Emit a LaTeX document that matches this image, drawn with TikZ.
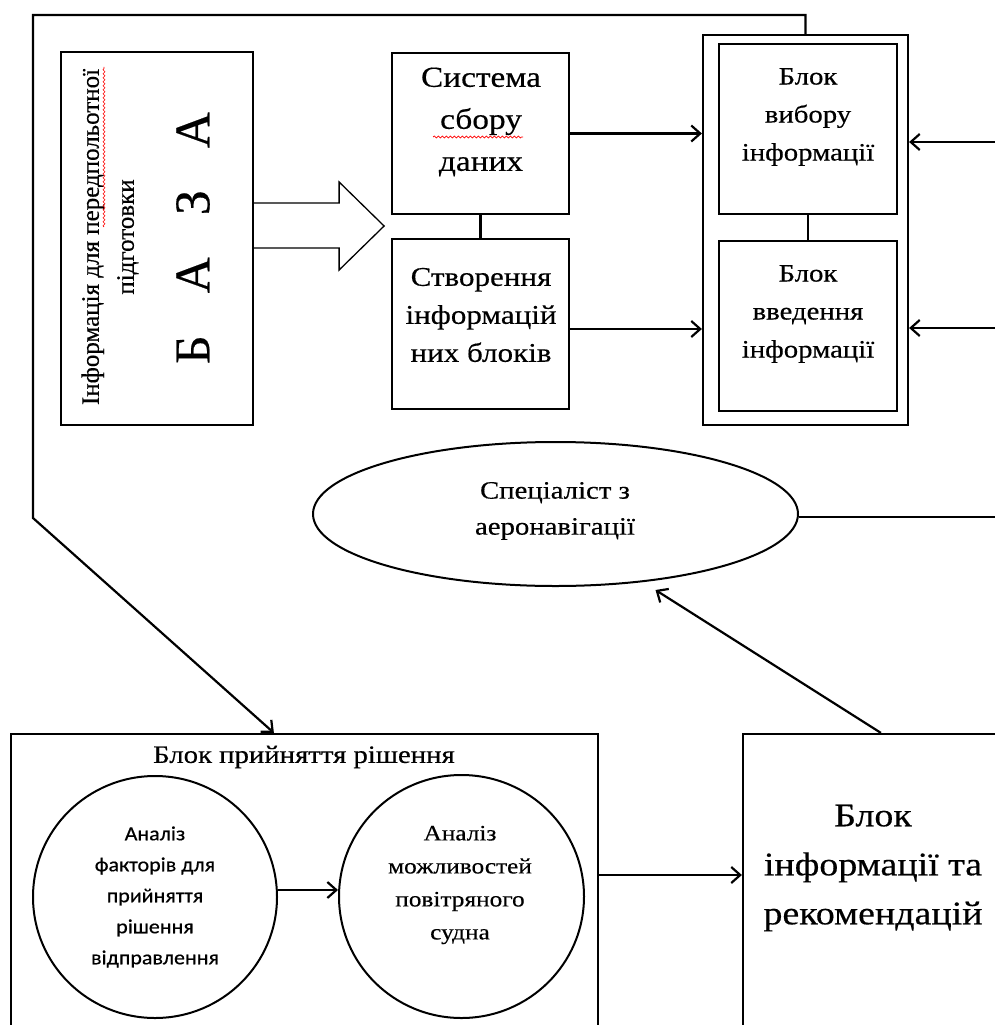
\documentclass[tikz,border=0pt]{standalone}
\usepackage{fontspec}
\setmainfont{Liberation Serif}[FakeStretch=1.15,FakeBold=0.4]
\newfontfamily\rotfont{Liberation Serif}[FakeBold=0.4]
\newfontfamily\sansfnt{Carlito}[FakeStretch=1.1,FakeBold=0.5]
\usetikzlibrary{arrows.meta,decorations.pathmorphing,shapes.geometric,calc}
\begin{document}
\begin{tikzpicture}[x=1pt,y=-1pt,line width=2.2pt,
  box/.style={draw,rectangle,inner sep=0pt,line width=2.2pt},
  oval/.style={draw,ellipse,inner sep=0pt,line width=2pt},
  txt/.style={align=center,inner sep=0pt},
  arr/.style={-{Straight Barb[length=9pt,width=16pt]}},
  squig/.style={red,line width=0.7pt,decorate,decoration={snake,amplitude=1pt,segment length=4pt}}]
\fill[white] (0,0) rectangle (995,1025);
\useasboundingbox (0,0) rectangle (995,1025);

% boxes
\node[box,minimum width=192pt,minimum height=373pt] (baza) at (157,238.5) {};
\node[box,minimum width=177pt,minimum height=161pt] (sys) at (480.5,133.5) {};
\node[box,minimum width=177pt,minimum height=170pt] (cre) at (480.5,324) {};
\node[box,minimum width=205pt,minimum height=390pt] (outer) at (805.5,230) {};
\node[box,minimum width=178pt,minimum height=170pt] (sel) at (808,129) {};
\node[box,minimum width=178pt,minimum height=170pt] (inp) at (808,326) {};
\node[oval,minimum width=485pt,minimum height=144pt] (spec) at (555.5,514) {};
\node[box,minimum width=587pt,minimum height=330pt] (dec) at (304.5,899) {};
\node[box,minimum width=280pt,minimum height=330pt] (info) at (883,899) {};
\node[oval,minimum width=244pt,minimum height=242pt] (c1) at (155,897) {};
\node[oval,minimum width=245pt,minimum height=243pt] (c2) at (461.5,896.5) {};

% texts
\node[txt,rotate=90,font=\rotfont\fontsize{25}{35}\selectfont] (tbaza) at (110,237) {Інформація для передпольотної\\підготовки};
\node[txt,rotate=90,font=\rotfont\fontsize{50}{52}\selectfont] (tletters) at (193,238) {Б\hspace{42pt}А\hspace{42pt}З\hspace{42pt}А};
\node[txt,font=\fontsize{29}{42}\selectfont] (tsys) at (481,122) {Система\\сбору\\даних};
\node[txt,font=\fontsize{27}{38}\selectfont] (tcre) at (481,315) {Створення\\інформацій\\них блоків};
\node[txt,font=\fontsize{25}{38}\selectfont] (tsel) at (808,117) {Блок\\вибору\\інформації};
\node[txt,font=\fontsize{25}{38}\selectfont] (tinp) at (808,314) {Блок\\введення\\інформації};
\node[txt,font=\fontsize{25}{36}\selectfont] (tspec) at (555,511) {Спеціаліст з\\аеронавігації};
\node[txt,font=\fontsize{25}{30}\selectfont] (tdec) at (304,757) {Блок прийняття рішення};
\node[txt,font=\sansfnt\fontsize{20}{31}\selectfont] (tc1) at (155,897) {Аналіз\\факторів для\\прийняття\\рішення\\відправлення};
\node[txt,font=\fontsize{22}{33}\selectfont] (tc2) at (460,885) {Аналіз\\можливостей\\повітряного\\судна};
\node[txt,font=\fontsize{33}{49}\selectfont] (tinfo) at (873,868) {Блок\\інформації та\\рекомендацій};

% spell-check marks
\draw[squig] (433,137) -- (523,137);
\draw[squig] (104,227) -- (104,67);

% block arrow
\draw[line width=1.3pt,line join=miter] ($(baza.east)+(0,-35.5)$) -- ++(85,0) -- ++(0,-21) -- ++(45,44) -- ++(-45,44) -- ++(0,-22) -- ++(-85,0);

% connectors
\draw (sys.south) -- (cre.north);
\draw (sel.south) -- (inp.north);
\draw[arr] (sys.east) -- (sys.east -| outer.west);
\draw[arr] ($(cre.east)+(0,5)$) coordinate (ce) -- (ce -| outer.west);
\coordinate (rin1) at (995,142);
\coordinate (rin2) at (995,328);
\coordinate (rout) at (995,517);
\draw[arr] (rin1) -- (rin1 -| outer.east);
\draw[arr] (rin2) -- (rin2 -| outer.east);
\draw (rout -| spec.east) -- (rout);
\coordinate (k1) at (33,15);
\coordinate (k2) at (33,518);
\draw[arr] (outer.north) |- (k1) -- (k2) -- ($(dec.north west)+(264,0)$);
\draw[arr] ($(c1.east)+(0,-7)$) coordinate (ca) -- (ca -| c2.west);
\draw[arr] ($(dec.east)+(0,-24)$) coordinate (da) -- (da -| info.west);
\draw[arr] ($(info.north west)+(139,0)$) -- ($(spec.south)+(100,3)$);
\end{tikzpicture}
\end{document}
